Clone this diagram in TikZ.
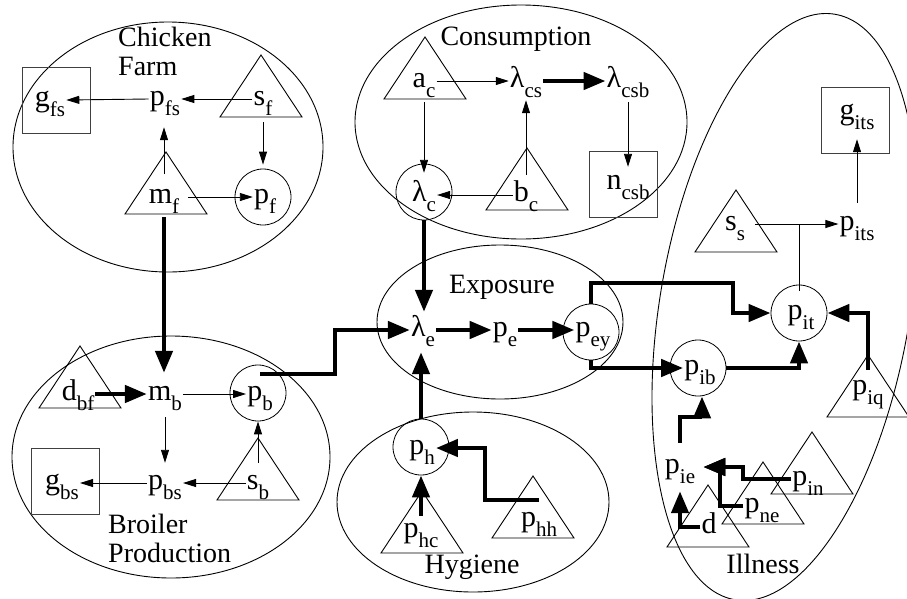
\documentclass[tikz,border=0pt]{standalone}
\usepackage{fontspec}
\setmainfont{Liberation Serif}
\usetikzlibrary{arrows.meta,calc}
\newcommand\sv[2]{#1\raisebox{-10pt}{\fontsize{21}{21}\selectfont #2}}
\newcommand\tri[2]{\draw[tri] (#1,#2) -- ++(-41,62) -- ++(82,0) -- cycle;}
\tikzset{
 v/.style={inner sep=1pt, font=\fontsize{30}{32}\selectfont, text height=14pt, text depth=2pt},
 lbl/.style={inner sep=0pt, font=\fontsize{28}{30}\selectfont},
 circ/.style={draw, circle, minimum size=56pt, inner sep=0pt, line width=0.8pt},
 boxn/.style={draw=black!75, rectangle, minimum width=68pt, minimum height=66pt, inner sep=0pt, line width=1pt},
 region/.style={line width=0.9pt},
 tri/.style={line width=0.9pt, line join=miter},
 tarr/.style={line width=0.9pt, -{Triangle[length=13pt,width=8pt]}},
 karr/.style={line width=4.5pt, -{Triangle[length=22pt,width=17pt]}},
}
\begin{document}
\begin{tikzpicture}[x=1pt,y=-1pt]
\useasboundingbox (0,0) rectangle (907,598);
\clip (0,0) rectangle (907,598);
% regions
\draw[region] (168,147) ellipse [x radius=155, y radius=125];
\draw[region] (171,457) ellipse [x radius=159, y radius=121];
\draw[region] (521,122) ellipse [x radius=166, y radius=117];
\draw[region] (500,322) ellipse [x radius=123, y radius=77];
\draw[region] (473,502) ellipse [x radius=136, y radius=90];
\draw[region, rotate around={-9.7:(785,307)}] (785,307) ellipse [x radius=125, y radius=297];
% region labels
\node[lbl, anchor=base west] (lchicken) at (118,46) {Chicken};
\node[lbl, anchor=base west] (lfarm) at (118,75) {Farm};
\node[lbl, anchor=base] (lcons) at (516,45) {Consumption};
\node[lbl, anchor=base] (lexpo) at (502,293) {Exposure};
\node[lbl, anchor=base west] (lbroiler) at (108,533) {Broiler};
\node[lbl, anchor=base west] (lprod) at (108,562) {Production};
\node[lbl, anchor=base] (lhyg) at (472,573) {Hygiene};
\node[lbl, anchor=base] (lill) at (763,573) {Illness};
% triangles
\tri{261}{55} \tri{166}{152}
\tri{80}{346} \tri{258}{438}
\tri{425}{37} \tri{527}{148}
\tri{422}{491} \tri{533}{476}
\tri{868}{355} \tri{708}{485} \tri{763}{462} \tri{812}{432} \tri{736}{190}
% Farm
\node[boxn] (gfsB) at (56,100) {};
\node[v] (gfs) at (50,100) {\sv{g}{fs}};
\node[v] (pfs) at (165,99) {\sv{p}{fs}};
\node[v] (sf) at (263,99) {\sv{s}{f}};
\node[v] (mf) at (164,197) {\sv{m}{f}};
\node[circ] (pfC) at (263,197) {};
\node[v] (pf) at (265,197) {\sv{p}{f}};
% Broiler
\node[v] (dbf) at (78,394) {\sv{d}{bf}};
\node[v] (mb) at (165,394) {\sv{m}{b}};
\node[circ] (pbC) at (258,393) {};
\node[v] (pb) at (260,394) {\sv{p}{b}};
\node[v] (pbs) at (165,483) {\sv{p}{bs}};
\node[v] (sb) at (258,483) {\sv{s}{b}};
\node[boxn] (gbsB) at (65,481) {};
\node[v] (gbs) at (62,483) {\sv{g}{bs}};
% Consumption
\node[v] (ac) at (424,81) {\sv{a}{c}};
\node[v] (lcs) at (526,81) {\sv{λ}{cs}};
\node[v] (lcsb) at (628,81) {\sv{λ}{csb}};
\node[boxn] (ncsbB) at (623,184) {};
\node[v] (ncsb) at (628,183) {\sv{n}{csb}};
\node[circ] (lcC) at (424,192) {};
\node[v] (lc) at (424,195) {\sv{λ}{c}};
\node[v] (bc) at (526,195) {\sv{b}{c}};
% Exposure
\node[v] (le) at (423,330) {\sv{λ}{e}};
\node[v] (pe) at (505,330) {\sv{p}{e}};
\node[circ] (peyC) at (591,332) {};
\node[v] (pey) at (593,330) {\sv{p}{ey}};
% Hygiene
\node[circ] (phC) at (421,447) {};
\node[v] (ph) at (422,448) {\sv{p}{h}};
\node[v] (phc) at (421,531) {\sv{p}{hc}};
\node[v] (phh) at (539,520) {\sv{p}{hh}};
% Illness
\node[v] (ss) at (735,224) {\sv{s}{s}};
\node[v] (pits) at (857,224) {\sv{p}{its}};
\node[boxn] (gitsB) at (855,120) {};
\node[v] (gits) at (857,113) {\sv{g}{its}};
\node[circ] (pitC) at (799,313) {};
\node[v] (pit) at (801,313) {\sv{p}{it}};
\node[circ] (pibC) at (698,368) {};
\node[v] (pib) at (700,368) {\sv{p}{ib}};
\node[v] (piq) at (868,388) {\sv{p}{iq}};
\node[v] (pie) at (680,467) {\sv{p}{ie}};
\node[v] (d) at (709,527) {d};
\node[v] (pne) at (762,506) {\sv{p}{ne}};
\node[v] (pin) at (808,479) {\sv{p}{in}};
% waypoints
\coordinate (c1) at (335,0);
\coordinate (pbtop) at ([yshift=11pt]pb.north);
\coordinate (ja) at (733,283);
\coordinate (jb) at (702,417);
\coordinate (jc) at (720,467);
\coordinate (jd) at (743,467);
\coordinate (je) at (485,448);
% Farm arrows
\draw[tarr] (sf.west) -- (pfs.east);
\draw[tarr] (pfs.west) -- (gfs.east);
\draw[tarr, shorten <=14pt, shorten >=19pt] (mf.north) -- (mf.north |- pfs.south);
\draw[tarr, shorten <=14pt, shorten >=4pt] (sf.south) -- (pfC.north);
\draw[tarr, shorten <=8pt] (mf.east) -- (pf.west);
\draw[karr, shorten <=11pt, shorten >=12pt] (mf.south) -- (mf.south |- mb.north);
% Broiler arrows
\draw[karr] (dbf.east) -- (mb.west);
\draw[tarr] (mb.east) -- (pb.west);
\draw[tarr, shorten <=14pt, shorten >=11pt] (mb.south) -- (pbs.north);
\draw[tarr] (sb.west) -- (pbs.east);
\draw[tarr] (pbs.west) -- (gbs.east);
\draw[tarr, shorten <=11pt] (sb.north) -- (pbC.south);
\draw[karr] (pbtop) -- (pbtop -| c1) |- (le.west);
% Consumption arrows
\draw[tarr] (ac.east) -- (lcs.west);
\draw[karr] (lcs.east) -- (lcsb.west);
\draw[tarr, shorten <=12pt, shorten >=7pt] (lcsb.south) -- (ncsb.north);
\draw[tarr, shorten <=12pt, shorten >=13pt] (ac.south) -- (lc.north);
\draw[tarr] (bc.west) -- (lc.east);
\draw[tarr, shorten <=11pt, shorten >=10pt] (bc.north) -- (lcs.south);
\draw[karr, shorten >=9pt] (lcC.south) -- (lcC.south |- le.north);
% Exposure arrows
\draw[karr] (le.east) -- (pe.west);
\draw[karr] (pe.east) -- (pey.west);
\draw[karr] (peyC.north) |- (ja) |- (pitC.west);
\draw[karr] (peyC.south) |- (pib.west);
% Hygiene arrows
\draw[karr, shorten <=6pt] (phc.north) -- (phC.south);
\draw[karr] ([yshift=11pt]phh.north) -| (je) -- (ph.east);
\draw[karr, shorten >=13pt] (phC.north) -- (phC.north |- le.south);
% Illness arrows
\draw[karr] (pibC.east) -| (pitC.south);
\draw[karr] ([yshift=9pt]piq.north) |- (pitC.east);
\draw[line width=0.9pt] (ss.east -| pitC.north) -- ([yshift=-6pt]pitC.north);
\draw[tarr, shorten <=9pt] (ss.east) -- (pits.west);
\draw[tarr, shorten <=12pt, shorten >=17pt] (pits.north) -- (gits.south);
\draw[karr] ([yshift=15pt]pie.north) |- (jb) -- (jb |- pibC.south);
\draw[karr, shorten >=15pt] (d.west) -| (pie.south);
\draw[karr, shorten >=7pt] (pne.west) -| (jc) -- (pie.east);
\draw[karr, shorten >=7pt] (pin.west) -| (jd) -- (pie.east);
\end{tikzpicture}
\end{document}
